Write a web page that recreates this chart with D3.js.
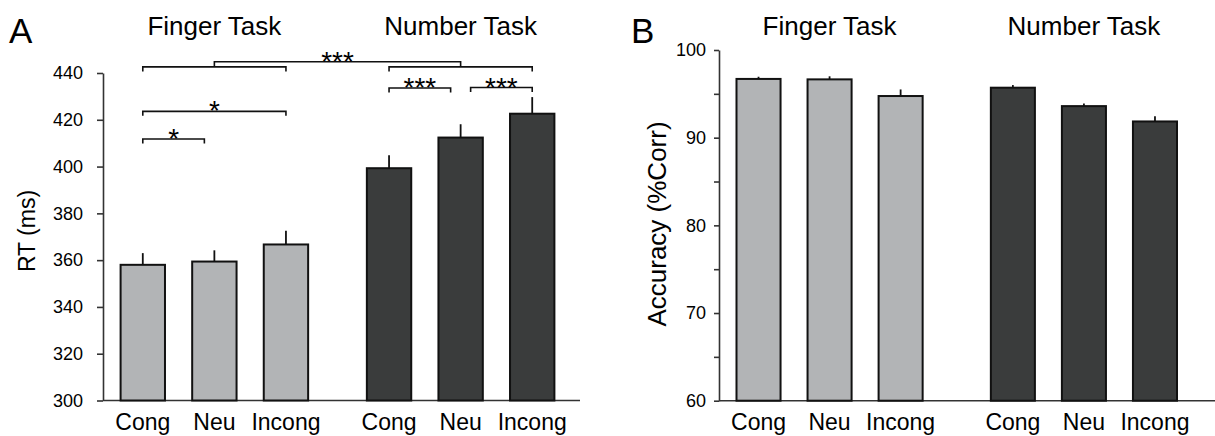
<!DOCTYPE html>
<html>
<head>
<meta charset="utf-8">
<script src="https://cdn.jsdelivr.net/npm/d3@7"></script>
<style>
  body { margin: 0; background: #fff; }
  text { font-family: "Liberation Sans", Arial, sans-serif; fill: #000; }
</style>
</head>
<body>
<div id="container"></div>
<script>
var width = 1215;
var height = 436;

// data
var groups = ["Finger Task", "Number Task"];
var conditions = ["Cong", "Neu", "Incong"];

var rtFinger = [358.0, 359.4, 366.7];
var rtNumber = [399.3, 412.4, 422.6];
var rtFingerSE = [5.0, 4.8, 5.9];
var rtNumberSE = [5.5, 5.7, 7.1];

var accFinger = [96.7, 96.65, 94.75];
var accNumber = [95.7, 93.6, 91.85];
var accFingerSE = [0.25, 0.35, 0.75];
var accNumberSE = [0.3, 0.3, 0.6];

var rtTicks = [300, 320, 340, 360, 380, 400, 420, 440];
var accTicks = [60, 65, 70, 75, 80, 85, 90, 95, 100];

// significance brackets, panel A (levels in ms)
var pairBrackets = [
  {group: "Finger Task", from: "Cong", to: "Neu", level: 411.8, label: "*"},
  {group: "Finger Task", from: "Cong", to: "Incong", level: 423.6, label: "*"},
  {group: "Number Task", from: "Cong", to: "Neu", level: 433.6, label: "***"},
  {group: "Number Task", from: "Neu", to: "Incong", level: 433.8, label: "***"}
];
var groupBracket = {level: 442.6, top: 444.8, label: "***"};

function rows(values, errors, groupName) {
  return conditions.map(function(c, i) {
    return {group: groupName, cond: c, value: values[i], se: errors[i]};
  });
}

var rtData = rows(rtFinger, rtFingerSE, groups[0]).concat(rows(rtNumber, rtNumberSE, groups[1]));
var accData = rows(accFinger, accFingerSE, groups[0]).concat(rows(accNumber, accNumberSE, groups[1]));

var fillColor = d3.scaleOrdinal().domain(groups).range(["#b2b4b6", "#3a3c3c"]);

var svg = d3.select('#container').append('svg')
  .attr('width', width).attr('height', height);

function drawPanel(opt) {
  var g = svg.append('g');

  var x0 = d3.scaleBand().domain(groups).range(opt.xRange).paddingInner(opt.groupPad);
  var x1 = d3.scaleBand().domain(conditions).range([0, x0.bandwidth()])
    .paddingInner(0.38).paddingOuter(0.19);
  var y = d3.scaleLinear().domain(opt.yDomain).range(opt.yRange);

  // y axis
  var axis = d3.axisLeft(y)
    .tickValues(opt.ticks)
    .tickSize(opt.tickSize)
    .tickSizeOuter(0)
    .tickPadding(opt.tickPad)
    .tickFormat(opt.format);
  var ax = g.append('g')
    .attr('transform', 'translate(' + opt.axisX + ',0)')
    .call(axis);
  ax.select('.domain').attr('stroke', '#333').attr('stroke-width', 1.6);
  ax.selectAll('.tick line').attr('stroke', '#333').attr('stroke-width', 1.6);
  ax.selectAll('.tick text')
    .style('font-family', '"Liberation Sans", Arial, sans-serif')
    .style('font-size', '18px')
    .attr('fill', '#000');

  // baseline
  g.append('line')
    .attr('x1', opt.axisX).attr('x2', opt.baseEnd)
    .attr('y1', y(opt.yDomain[0])).attr('y2', y(opt.yDomain[0]))
    .attr('stroke', '#333').attr('stroke-width', 1.6);

  var bx = function(d) { return x0(d.group) + x1(d.cond); };

  // bars
  g.selectAll('rect.bar')
    .data(opt.data)
    .enter().append('rect')
    .attr('class', 'bar')
    .attr('x', bx)
    .attr('y', function(d) { return y(d.value); })
    .attr('width', x1.bandwidth())
    .attr('height', function(d) { return y(opt.yDomain[0]) - y(d.value); })
    .attr('fill', function(d) { return fillColor(d.group); })
    .attr('stroke', '#111')
    .attr('stroke-width', 2);

  // error bars (upper only)
  g.selectAll('line.err')
    .data(opt.data)
    .enter().append('line')
    .attr('class', 'err')
    .attr('x1', function(d) { return bx(d) + x1.bandwidth() / 2; })
    .attr('x2', function(d) { return bx(d) + x1.bandwidth() / 2; })
    .attr('y1', function(d) { return y(d.value); })
    .attr('y2', function(d) { return y(d.value + d.se); })
    .attr('stroke', '#111')
    .attr('stroke-width', 1.8);

  // condition labels
  g.selectAll('text.cond')
    .data(opt.data)
    .enter().append('text')
    .attr('class', 'cond')
    .attr('x', function(d) { return bx(d) + x1.bandwidth() / 2; })
    .attr('y', 430)
    .attr('text-anchor', 'middle')
    .style('font-size', '23px')
    .text(function(d) { return d.cond; });

  // group titles
  g.selectAll('text.title')
    .data(groups)
    .enter().append('text')
    .attr('class', 'title')
    .attr('x', function(d) { return x0(d) + x0.bandwidth() / 2; })
    .attr('y', 35)
    .attr('text-anchor', 'middle')
    .style('font-size', '26px')
    .text(function(d) { return d; });

  // panel letter
  g.append('text')
    .attr('x', opt.letterX).attr('y', 43)
    .style('font-size', '35px')
    .text(opt.letter);

  // y label
  g.append('text')
    .attr('transform', 'translate(' + opt.labelX + ',' + opt.labelY + ') rotate(-90)')
    .attr('text-anchor', 'middle')
    .style('font-size', opt.labelSize)
    .text(opt.yLabel);

  return {g: g, x0: x0, x1: x1, y: y};
}

var A = drawPanel({
  data: rtData, xRange: [107, 568], groupPad: 0.128,
  yDomain: [300, 440], yRange: [400.5, 73], ticks: rtTicks,
  tickSize: 6, tickPad: 14, format: d3.format('d'),
  axisX: 103, baseEnd: 580, letter: 'A', letterX: 9,
  yLabel: 'RT (ms)', labelX: 35, labelY: 231, labelSize: '23px'
});

drawPanel({
  data: accData, xRange: [723, 1190.5], groupPad: 0.162,
  yDomain: [60, 100], yRange: [400.7, 50], ticks: accTicks,
  tickSize: 5, tickPad: 8, format: function(d) { return d % 10 === 0 ? d : ''; },
  axisX: 719, baseEnd: 1215, letter: 'B', letterX: 631,
  yLabel: 'Accuracy (%Corr)', labelX: 666, labelY: 224, labelSize: '26px'
});

// brackets on panel A
var tick = 4.5;
var inset = 10;
function cx(groupName, cond) {
  return A.x0(groupName) + A.x1(cond) + A.x1.bandwidth() / 2;
}
function bracketPath(xl, xr, yy) {
  return 'M' + xl + ',' + (yy + tick) + 'V' + yy + 'H' + xr + 'V' + (yy + tick);
}
function stars(xm, yy, label) {
  A.g.append('text')
    .attr('x', xm).attr('y', yy + 9)
    .attr('text-anchor', 'middle')
    .style('font-size', '28px')
    .text(label);
}

pairBrackets.forEach(function(b) {
  var xl = cx(b.group, b.from) + (b.from === 'Neu' ? inset : 0);
  var xr = cx(b.group, b.to) - (b.to === 'Neu' ? inset : 0);
  var yy = A.y(b.level);
  A.g.append('path')
    .attr('d', bracketPath(xl, xr, yy))
    .attr('fill', 'none').attr('stroke', '#111').attr('stroke-width', 1.6);
  stars((xl + xr) / 2, yy, b.label);
});

// group vs group bracket
var mids = groups.map(function(gr) {
  var xl = cx(gr, conditions[0]), xr = cx(gr, conditions[2]);
  A.g.append('path')
    .attr('d', bracketPath(xl, xr, A.y(groupBracket.level)))
    .attr('fill', 'none').attr('stroke', '#111').attr('stroke-width', 1.6);
  return (xl + xr) / 2;
});
var yTop = A.y(groupBracket.top);
A.g.append('path')
  .attr('d', 'M' + mids[0] + ',' + A.y(groupBracket.level) + 'V' + yTop + 'H' + mids[1] + 'V' + A.y(groupBracket.level))
  .attr('fill', 'none').attr('stroke', '#111').attr('stroke-width', 1.6);
stars((mids[0] + mids[1]) / 2, yTop, groupBracket.label);
</script>
</body>
</html>
